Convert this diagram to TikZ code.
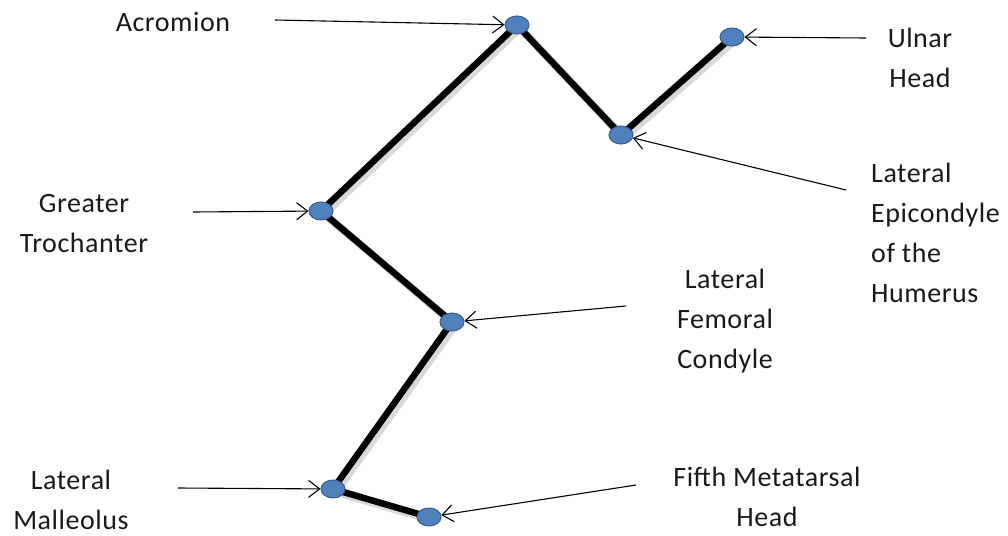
\documentclass[tikz,border=0pt]{standalone}
\usepackage{fontspec}
\setmainfont{Carlito}[LetterSpace=2]
\usetikzlibrary{arrows.meta,shapes.geometric}
\definecolor{jointfill}{HTML}{4F81BD}
\definecolor{jointline}{HTML}{385D8A}
\begin{document}
\begin{tikzpicture}[x=1pt,y=-1pt,
  joint/.style={ellipse,draw=jointline,line width=1pt,fill=jointfill,minimum width=24pt,minimum height=18pt,inner sep=0pt},
  bone/.style={line width=6.5pt,black},
  boneshadow/.style={line width=8pt,black!25,opacity=0.6},
  lbl/.style={font=\fontsize{28}{40}\selectfont,text=black!90,inner sep=0pt},
  pointer/.style={line width=1.1pt,-{Straight Barb[length=11pt,width=17pt,line width=1.1pt]}}]
\useasboundingbox (0,0) rectangle (1008,535);
% joint positions
\coordinate (pA) at (517,25);
\coordinate (pU) at (732,37);
\coordinate (pE) at (621,135);
\coordinate (pG) at (321,211);
\coordinate (pK) at (452,322);
\coordinate (pM) at (333,489);
\coordinate (pF) at (429,517);
% shadows
\draw[boneshadow] ([shift={(3,3)}]pU) -- ([shift={(3,3)}]pE) -- ([shift={(3,3)}]pA) -- ([shift={(3,3)}]pG) -- ([shift={(3,3)}]pK) -- ([shift={(3,3)}]pM) -- ([shift={(3,3)}]pF);
% bones
\draw[bone,line join=round] (pU) -- (pE) -- (pA) -- (pG) -- (pK) -- (pM) -- (pF);
% joints
\node[joint] (jA) at (pA) {};
\node[joint] (jU) at (pU) {};
\node[joint] (jE) at (pE) {};
\node[joint] (jG) at (pG) {};
\node[joint] (jK) at (pK) {};
\node[joint] (jM) at (pM) {};
\node[joint] (jF) at (pF) {};
% labels
\node[lbl] (tA) at (173,22) {Acromion};
\node[lbl,align=center] (tU) at (920,58) {Ulnar\\Head};
\node[lbl,align=left,anchor=west] (tE) at (871,233) {Lateral\\Epicondyle\\of the\\Humerus};
\node[lbl,align=center] (tG) at (84,224) {Greater\\Trochanter};
\node[lbl,align=center] (tK) at (725,321) {Lateral\\Femoral\\Condyle};
\node[lbl,align=center] (tF) at (767,497) {Fifth Metatarsal\\Head};
\node[lbl,align=center] (tM) at (71,500) {Lateral\\Malleolus};
% arrow tails
\coordinate (aA) at (275,20);
\coordinate (aU) at (866,38);
\coordinate (aE) at (846,190);
\coordinate (aG) at (193,212);
\coordinate (aK) at (626,306);
\coordinate (aM) at (178,488);
\coordinate (aF) at (636,485);
% arrows
\draw[pointer] (aA) -- (jA);
\draw[pointer] (aU) -- (jU);
\draw[pointer] (aE) -- (jE);
\draw[pointer] (aG) -- (jG);
\draw[pointer] (aK) -- (jK);
\draw[pointer] (aM) -- (jM);
\draw[pointer] (aF) -- (jF);
\end{tikzpicture}
\end{document}
